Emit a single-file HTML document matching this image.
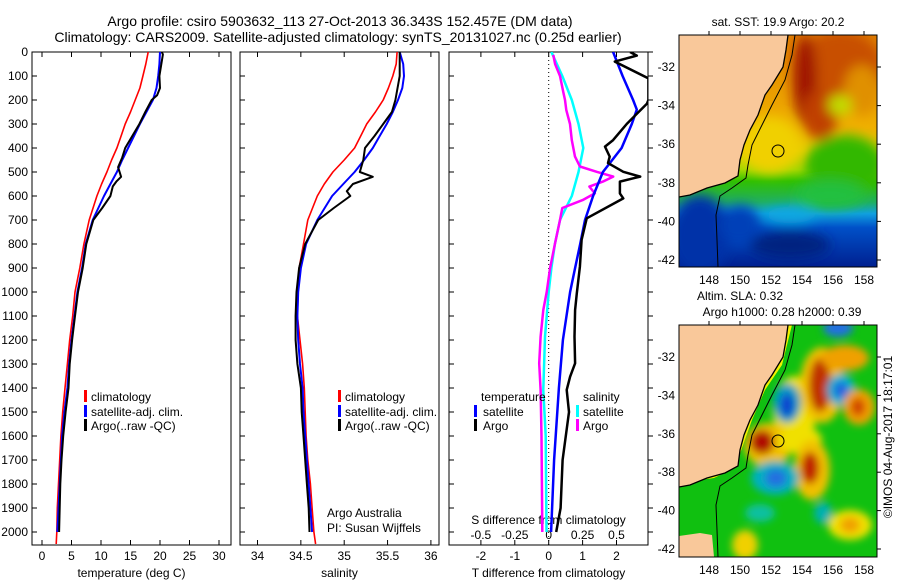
<!DOCTYPE html>
<html><head><meta charset="utf-8"><style>
html,body{margin:0;padding:0;background:#fff;}
svg{display:block;font-family:"Liberation Sans",sans-serif;}
text{fill:#000;}
</style></head><body>
<svg id="fig" width="900" height="580" viewBox="0 0 900 580" xmlns="http://www.w3.org/2000/svg">
<defs>
<filter id="blur6" x="-20%" y="-20%" width="140%" height="140%"><feGaussianBlur stdDeviation="6"/></filter>
<filter id="blur4" x="-20%" y="-20%" width="140%" height="140%"><feGaussianBlur stdDeviation="4"/></filter>
<clipPath id="clipM1"><rect x="679" y="35" width="198" height="232"/></clipPath>
<clipPath id="clipM2"><rect x="679" y="325" width="198" height="232"/></clipPath>
<clipPath id="clipP1"><rect x="32" y="52" width="199" height="493"/></clipPath>
<clipPath id="clipP2"><rect x="240" y="52" width="199" height="493"/></clipPath>
<clipPath id="clipP3"><rect x="449" y="52" width="199" height="493"/></clipPath>
<linearGradient id="sstBase" x1="0" y1="0" x2="0" y2="1">
<stop offset="0" stop-color="#e08000"/><stop offset="0.4" stop-color="#f0b000"/>
<stop offset="0.5" stop-color="#e8d000"/><stop offset="0.58" stop-color="#a0d800"/>
<stop offset="0.63" stop-color="#30c000"/><stop offset="0.72" stop-color="#20b060"/>
<stop offset="0.77" stop-color="#10a0e0"/><stop offset="0.83" stop-color="#0050c8"/>
<stop offset="1" stop-color="#002090"/>
</linearGradient>
</defs>

<text x="340" y="26" font-size="14" text-anchor="middle">Argo profile: csiro 5903632_113 27-Oct-2013 36.343S 152.457E (DM data)</text>
<text x="338" y="42" font-size="14" text-anchor="middle">Climatology: CARS2009. Satellite-adjusted climatology: synTS_20131027.nc (0.25d earlier)</text>

<g id="axes"></g>
<g id="series"></g>

<g font-size="12">
<rect x="84" y="390" width="3" height="12" fill="#f00"/><text x="91" y="401">climatology</text>
<rect x="84" y="405" width="3" height="12" fill="#00f"/><text x="91" y="416">satellite-adj. clim.</text>
<rect x="84" y="419" width="3" height="12" fill="#000"/><text x="91" y="430">Argo(..raw -QC)</text>
</g>
<g font-size="12">
<rect x="338" y="390" width="3" height="12" fill="#f00"/><text x="345" y="401">climatology</text>
<rect x="338" y="405" width="3" height="12" fill="#00f"/><text x="345" y="416">satellite-adj. clim.</text>
<rect x="338" y="419" width="3" height="12" fill="#000"/><text x="345" y="430">Argo(..raw -QC)</text>
<text x="327" y="517">Argo Australia</text>
<text x="327" y="532">PI: Susan Wijffels</text>
</g>
<g font-size="12">
<text x="481" y="401">temperature</text>
<rect x="474" y="405" width="3" height="12" fill="#00f"/><text x="483" y="416">satellite</text>
<rect x="474" y="419" width="3" height="12" fill="#000"/><text x="483" y="430">Argo</text>
<text x="583" y="401">salinity</text>
<rect x="576" y="405" width="3" height="12" fill="#0ff"/><text x="583" y="416">satellite</text>
<rect x="576" y="419" width="3" height="12" fill="#f0f"/><text x="583" y="430">Argo</text>
</g>

<!-- SST map -->
<g>
<g clip-path="url(#clipM1)">
<rect x="679" y="35" width="198" height="232" fill="url(#sstBase)"/>
<g filter="url(#blur6)">
<ellipse cx="840" cy="70" rx="45" ry="40" fill="#c85000"/>
<ellipse cx="805" cy="80" rx="12" ry="45" fill="#a01800"/>
<ellipse cx="820" cy="115" rx="18" ry="25" fill="#c04000"/>
<ellipse cx="862" cy="90" rx="18" ry="25" fill="#e09000"/>
<ellipse cx="840" cy="105" rx="12" ry="10" fill="#c0e000"/>
<ellipse cx="770" cy="145" rx="30" ry="28" fill="#f0d000"/>
<ellipse cx="845" cy="165" rx="40" ry="30" fill="#30b800"/>
<ellipse cx="830" cy="195" rx="35" ry="14" fill="#20c040"/>
<ellipse cx="790" cy="215" rx="25" ry="8" fill="#10a8e0"/>
<ellipse cx="790" cy="245" rx="40" ry="14" fill="#002080"/>
<ellipse cx="700" cy="235" rx="30" ry="40" fill="#0030a8"/>
<ellipse cx="740" cy="225" rx="20" ry="20" fill="#0040b8"/>
</g>
<path d="M679,35 L788,35 L786,50 L783,67 L772,85 L765,95 L758,115 L750,130 L744,145 L740,160 L738,176 L725,183 L707,188 L690,195 L679,197 Z" fill="#f9c89a"/>
<polyline points="795,35 792,55 785,80 772,105 762,125 752,145 748,165 746,178 732,188 720,196 716,215 717,240 718,267" fill="none" stroke="#000" stroke-width="1"/>
<polyline points="788,35 786,50 783,67 772,85 765,95 758,115 750,130 744,145 740,160 738,176 725,183 707,188 690,195 679,197" fill="none" stroke="#000" stroke-width="1.3"/>
</g>
<rect x="679" y="35" width="198" height="232" fill="none" stroke="#000" stroke-width="1"/>
<circle cx="778" cy="151" r="6" fill="none" stroke="#000" stroke-width="1"/>
<text x="778" y="26" font-size="12" text-anchor="middle">sat. SST: 19.9 Argo: 20.2</text>
</g>

<!-- SLA map -->
<g>
<g clip-path="url(#clipM2)">
<rect x="679" y="325" width="198" height="232" fill="#10c010"/>
<g filter="url(#blur4)">
<ellipse cx="795" cy="410" rx="22" ry="34" fill="#f0e000"/>
<ellipse cx="787" cy="403" rx="14" ry="20" fill="#00a0c0"/>
<ellipse cx="787" cy="405" rx="7" ry="12" fill="#1040d0"/>
<ellipse cx="768" cy="445" rx="24" ry="22" fill="#f0c000"/>
<ellipse cx="762" cy="442" rx="12" ry="12" fill="#b01000"/>
<ellipse cx="800" cy="440" rx="22" ry="14" fill="#f0e000"/>
<ellipse cx="812" cy="470" rx="18" ry="30" fill="#f0c000"/>
<ellipse cx="810" cy="468" rx="9" ry="16" fill="#c02000"/>
<ellipse cx="822" cy="385" rx="22" ry="38" fill="#f0c000"/>
<ellipse cx="820" cy="385" rx="11" ry="27" fill="#c03000"/>
<ellipse cx="845" cy="358" rx="24" ry="13" fill="#f0a000"/>
<ellipse cx="841" cy="390" rx="14" ry="16" fill="#00b0d0"/>
<ellipse cx="841" cy="390" rx="7" ry="8" fill="#2060e0"/>
<ellipse cx="859" cy="407" rx="16" ry="18" fill="#f0a000"/>
<ellipse cx="858" cy="407" rx="7" ry="9" fill="#d04000"/>
<ellipse cx="775" cy="478" rx="24" ry="17" fill="#00b0c0"/>
<ellipse cx="776" cy="478" rx="11" ry="9" fill="#2070e0"/>
<ellipse cx="850" cy="525" rx="22" ry="15" fill="#f0e000"/>
<ellipse cx="850" cy="525" rx="10" ry="8" fill="#f0a000"/>
<ellipse cx="745" cy="545" rx="13" ry="15" fill="#f0d000"/>
<ellipse cx="823" cy="513" rx="9" ry="11" fill="#00b0b0"/>
<ellipse cx="760" cy="513" rx="15" ry="9" fill="#10c0a0"/>
<ellipse cx="838" cy="328" rx="15" ry="9" fill="#2070e0"/>
</g>
<polygon points="788,325 792,325 782,365 765,390 752,420 742,448 735,468 714,478 700,480 700,475 727,470 735,463 740,443 750,413 765,380 783,357" fill="#f0f000"/>
<path d="M679,325 L788,325 L786,340 L783,357 L772,375 L765,385 L758,405 L750,420 L744,435 L740,450 L738,466 L725,473 L707,478 L690,485 L679,487 Z" fill="#f9c89a"/>
<path d="M679,536 L700,533 L712,535 L714,557 L679,557 Z" fill="#f9c89a"/>
<polyline points="795,325 792,345 785,370 772,395 762,415 752,435 748,455 746,468 732,478 720,486 716,505 717,530 718,557" fill="none" stroke="#000" stroke-width="1"/>
<polyline points="788,325 786,340 783,357 772,375 765,385 758,405 750,420 744,435 740,450 738,466 725,473 707,478 690,485 679,487" fill="none" stroke="#000" stroke-width="1.3"/>
</g>
<rect x="679" y="325" width="198" height="232" fill="none" stroke="#000" stroke-width="1"/>
<circle cx="778" cy="441" r="6" fill="none" stroke="#000" stroke-width="1"/>
<text x="740" y="300" font-size="12" text-anchor="middle">Altim. SLA: 0.32</text>
<text x="782" y="316" font-size="12" text-anchor="middle">Argo h1000: 0.28 h2000: 0.39</text>
<text transform="translate(892,437) rotate(-90)" font-size="12" text-anchor="middle">©IMOS 04-Aug-2017 18:17:01</text>
</g>
<g id="mapaxes" font-size="12"></g>

<script>
const depthClim = [0,50,100,150,200,250,300,350,400,450,500,550,600,700,800,900,1000,1100,1200,1300,1400,1500,1600,1700,1800,1900,2000,2050];
const depthSat = [0,50,100,150,200,250,300,350,400,450,500,550,600,700,800,900,1000,1100,1200,1300,1400,1500,1600,1700,1800,1900,2000];
const tempClim = [18.0,17.6,17.1,16.6,15.8,15.0,14.1,13.4,12.7,11.8,11.0,10.1,9.3,8.0,7.1,6.4,5.6,5.2,4.7,4.3,3.9,3.5,3.2,3.0,2.8,2.6,2.5,2.4];
const tempSat = [20.0,19.9,19.7,19.4,18.8,17.7,16.6,15.6,14.6,13.6,12.7,11.6,10.5,8.6,7.4,6.8,6.0,5.5,5.0,4.6,4.3,3.8,3.4,3.2,3.0,2.8,2.6];
const depthArgoT = [0,10,100,150,180,200,250,300,350,400,440,480,520,540,560,600,650,700,800,900,1000,1100,1200,1300,1400,1500,1600,1700,1800,1900,2000];
const tempArgo = [20.3,20.5,19.9,20.0,19.5,18.6,17.5,16.5,15.3,14.1,13.6,12.9,13.4,12.6,12.0,11.6,10.2,8.7,7.5,6.9,6.1,5.6,5.1,4.7,4.5,4.0,3.6,3.3,3.1,3.0,2.9];
const salClim = [35.61,35.60,35.56,35.51,35.45,35.36,35.26,35.19,35.12,35.00,34.87,34.77,34.69,34.58,34.53,34.48,34.47,34.46,34.49,34.52,34.54,34.55,34.56,34.58,34.61,34.63,34.65,34.67];
const salSat = [35.64,35.68,35.69,35.67,35.62,35.56,35.49,35.41,35.33,35.23,35.12,34.99,34.86,34.69,34.56,34.50,34.47,34.46,34.47,34.49,34.52,34.53,34.55,34.57,34.59,34.61,34.63];
const depthArgoS = [0,100,200,250,300,350,400,450,500,520,550,580,600,650,700,800,900,1000,1100,1200,1300,1400,1500,1600,1700,1800,1900,2000];
const salArgo = [35.64,35.64,35.59,35.55,35.45,35.35,35.24,35.22,35.18,35.33,35.10,35.03,35.07,34.88,34.70,34.55,34.48,34.45,34.44,34.44,34.46,34.50,34.51,34.53,34.55,34.57,34.59,34.60];
const depthTdSat = [0,100,200,240,300,400,500,600,700,800,900,1000,1200,1400,1700,2000];
const tdSat = [1.9,2.18,2.49,2.6,2.45,2.15,1.6,1.31,1.07,0.93,0.78,0.63,0.42,0.3,0.16,0.07];
const depthTdArgo = [0,15,40,110,200,215,300,367,394,436,463,499,519,540,589,610,693,783,894,1006,1075,1186,1297,1353,1408,1500,1700,1900,2000];
const tdArgo = [2.4,2.6,1.95,2.94,2.94,2.9,2.3,1.9,1.66,1.8,1.75,2.2,2.7,2.1,2.1,2.2,1.12,0.97,0.92,0.83,0.78,0.76,0.78,0.63,0.53,0.6,0.41,0.35,0.22];
const depthSdSat = [0,100,200,300,400,500,600,700,800,900,1000,1186,1408,1600,2000];
const sdSat = [0.02,0.1,0.17,0.22,0.255,0.22,0.17,0.083,0.046,0.02,0,-0.027,-0.04,-0.022,-0.016];
const depthSdArgo = [12,50,100,167,200,242,300,367,436,477,499,519,540,561,589,617,650,700,800,900,1000,1075,1186,1297,1408,1600,2000];
const sdArgo = [0.034,0.047,0.083,0.108,0.12,0.13,0.157,0.17,0.194,0.23,0.354,0.476,0.4,0.3,0.34,0.25,0.1,0.083,0.046,0.01,-0.015,-0.04,-0.06,-0.07,-0.06,-0.053,-0.047];
const depthTicks = [0,100,200,300,400,500,600,700,800,900,1000,1100,1200,1300,1400,1500,1600,1700,1800,1900,2000];
const tempTicks = [0,5,10,15,20,25,30];
const salTicks = [34,34.5,35,35.5,36];
const salTickLabels = ["34","34.5","35","35.5","36"];
const tdTicks = [-2,-1,0,1,2];
const sdTicks = [-0.5,-0.25,0,0.25,0.5];
const sdTickLabels = ["-0.5","-0.25","0","0.25","0.5"];
const lonTicks = [148,150,152,154,156,158];
const latTicks = [-32,-34,-36,-38,-40,-42];

const yD = d => 52 + d*0.24;
const xT = t => 42 + t*5.9;
const xS = s => 257.5 + (s-34)*86.7;
const xTd = t => 548.7 + t*33.9;
const xSd = s => 548.7 + s*135.6;
const xLon = l => 709 + (l-148)*15.5;
const yLat1 = l => 67 + (-32-l)*19.3;
const yLat2 = l => 357 + (-32-l)*19.2;

const NS = "http://www.w3.org/2000/svg";
function mk(tag, attrs, parent){ const e=document.createElementNS(NS,tag); for(const k in attrs) e.setAttribute(k,attrs[k]); parent.appendChild(e); return e; }
const axes = document.getElementById('axes');
const series = document.getElementById('series');
const mapaxes = document.getElementById('mapaxes');

const panels = [{x0:32,name:'temperature'},{x0:240,name:'salinity'},{x0:449,name:'difference'}];
panels.forEach((p,i)=>{
  const r = mk('rect',{x:p.x0,y:52,width:199,height:493,fill:'none',stroke:'#000','stroke-width':1},axes);
  
  
  depthTicks.forEach(d=>{
    mk('line',{x1:p.x0,x2:p.x0+5,y1:yD(d),y2:yD(d),stroke:'#000'},axes);
    if(i===2) mk('line',{x1:p.x0+199,x2:p.x0+204,y1:yD(d),y2:yD(d),stroke:'#000'},axes);
  });
});
depthTicks.forEach(d=>{
  const t = mk('text',{x:28,y:yD(d)+4,'font-size':12,'text-anchor':'end'},axes);
  t.textContent = d;
  
  
});
function xticks(vals, fx, labels, ylab, top, bottom){
  vals.forEach((v,k)=>{
    const x = fx(v);
    if(top) mk('line',{x1:x,x2:x,y1:52,y2:57,stroke:'#000'},axes);
    if(bottom) mk('line',{x1:x,x2:x,y1:545,y2:540,stroke:'#000'},axes);
    const t = mk('text',{x:x,y:ylab,'font-size':12,'text-anchor':'middle'},axes);
    t.textContent = labels ? labels[k] : v;
    
    
  });
}
xticks(tempTicks, xT, null, 560, true, true);
xticks(salTicks, xS, salTickLabels, 560, true, true);
xticks(tdTicks, xTd, null, 560, true, true);
xticks(sdTicks, xSd, sdTickLabels, 539, false, false);
[['temperature (deg C)',131.5,577,'temperature-axis-title'],['salinity',339.5,577,'salinity-axis-title'],['T difference from climatology',548.5,577,'t-diff-axis-title'],['S difference from climatology',548.5,524,'s-diff-axis-title']].forEach(a=>{
  const t = mk('text',{x:a[1],y:a[2],'font-size':12,'text-anchor':'middle'},axes);
  t.textContent=a[0];
  
  
});
const zl = mk('line',{x1:xTd(0),x2:xTd(0),y1:52,y2:545,stroke:'#000','stroke-dasharray':'1,3'},axes);



function line(depths, vals, fx, color, w, clip, name){
  const pts = depths.map((d,k)=>fx(vals[k]).toFixed(1)+','+yD(d).toFixed(1)).join(' ');
  const pl = mk('polyline',{points:pts,fill:'none',stroke:color,'stroke-width':w,'clip-path':'url(#'+clip+')','stroke-linejoin':'round'},series);
  
  
}
line(depthClim,tempClim,xT,'#f00',1.6,'clipP1','temperature-climatology-line');
line(depthSat,tempSat,xT,'#00f',2,'clipP1','temperature-satellite-line');
line(depthArgoT,tempArgo,xT,'#000',2,'clipP1','temperature-argo-line');
line(depthClim,salClim,xS,'#f00',1.6,'clipP2','salinity-climatology-line');
line(depthSat,salSat,xS,'#00f',2,'clipP2','salinity-satellite-line');
line(depthArgoS,salArgo,xS,'#000',2,'clipP2','salinity-argo-line');
line(depthSdSat,sdSat,xSd,'#0ff',2.5,'clipP3','s-diff-satellite-line');
line(depthSdArgo,sdArgo,xSd,'#f0f',2.5,'clipP3','s-diff-argo-line');
line(depthTdSat,tdSat,xTd,'#00f',2.5,'clipP3','t-diff-satellite-line');
line(depthTdArgo,tdArgo,xTd,'#000',2.5,'clipP3','t-diff-argo-line');

lonTicks.forEach(l=>{
  const x=xLon(l);
  mk('line',{x1:x,x2:x,y1:31,y2:35,stroke:'#000'},mapaxes);
  mk('line',{x1:x,x2:x,y1:321,y2:325,stroke:'#000'},mapaxes);
  const t1=mk('text',{x:x,y:284,'text-anchor':'middle'},mapaxes); t1.textContent=l;
  
  
  const t2=mk('text',{x:x,y:574,'text-anchor':'middle'},mapaxes); t2.textContent=l;
  
  
});
latTicks.forEach(l=>{
  const y1=yLat1(l), y2=yLat2(l);
  mk('line',{x1:877,x2:881,y1:y1,y2:y1,stroke:'#000'},mapaxes);
  mk('line',{x1:877,x2:881,y1:y2,y2:y2,stroke:'#000'},mapaxes);
  const t1=mk('text',{x:675,y:y1+4,'text-anchor':'end'},mapaxes); t1.textContent=l;
  
  
  const t2=mk('text',{x:675,y:y2+4,'text-anchor':'end'},mapaxes); t2.textContent=l;
  
  
});
</script>
</svg>
</body></html>
